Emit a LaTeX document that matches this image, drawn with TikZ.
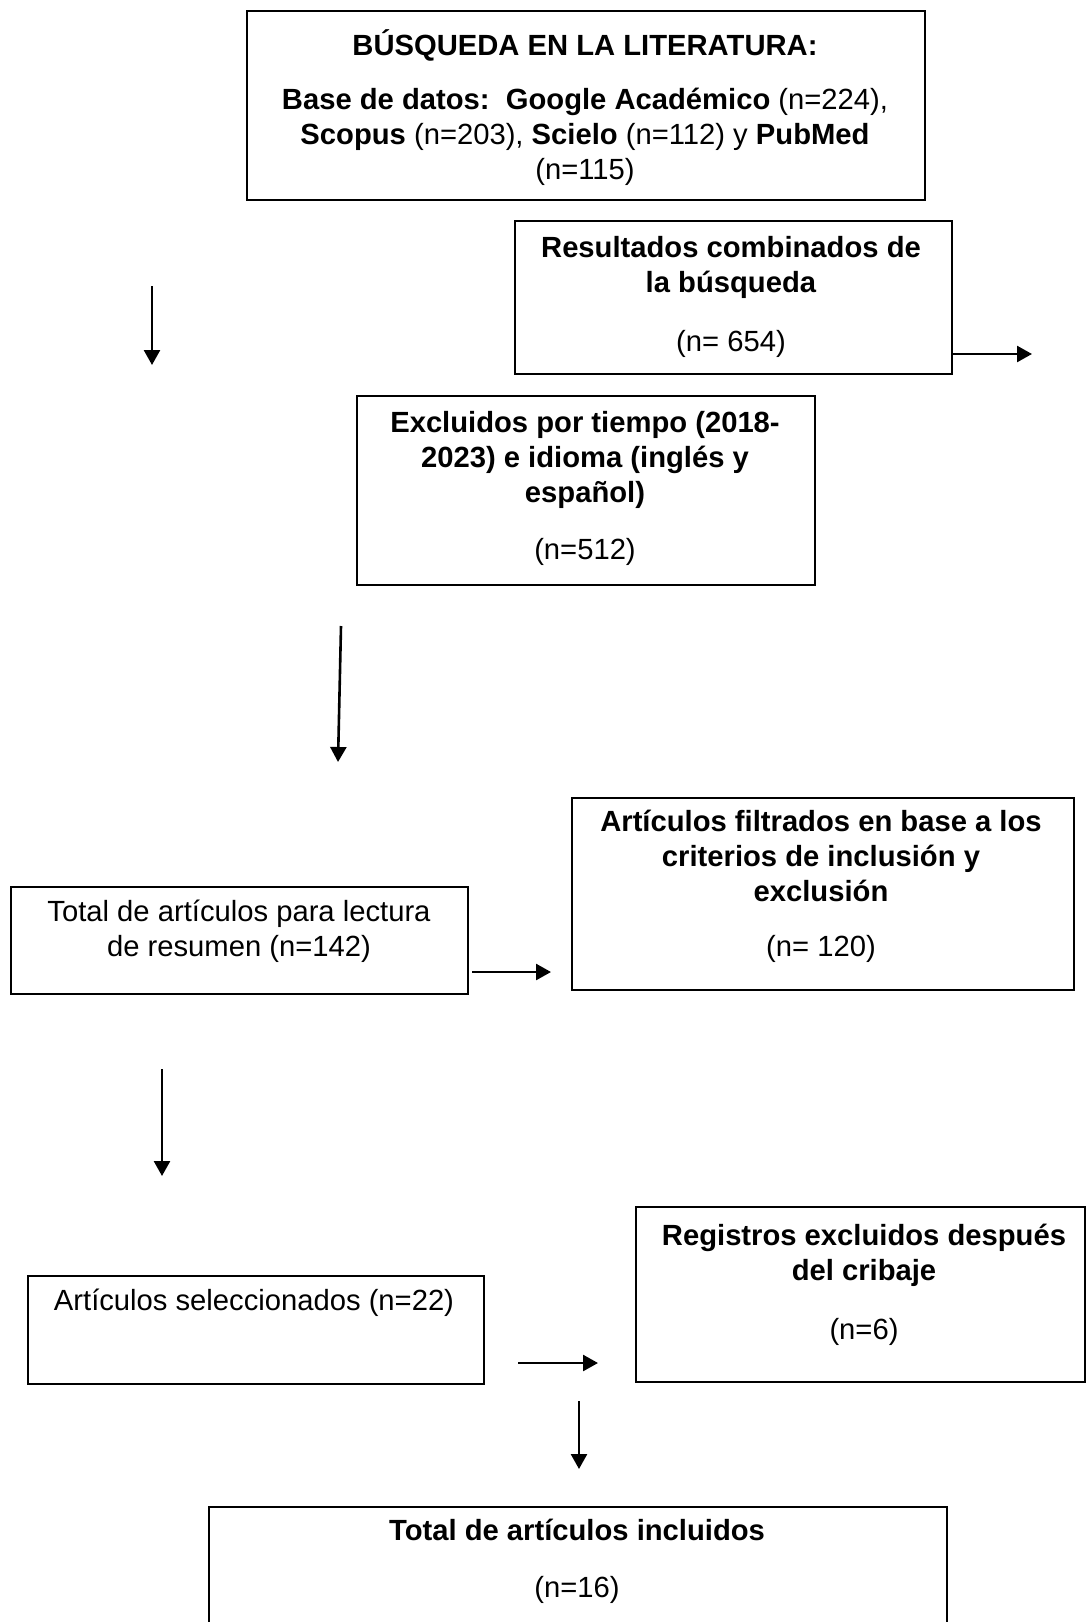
\documentclass[tikz,border=0pt]{standalone}
\usepackage{fontspec}
\setmainfont{Liberation Sans}
\usepackage{tikz}
\usetikzlibrary{arrows.meta,positioning}

\begin{document}
\begin{tikzpicture}[x=0.5pt, y=-0.5pt,
		box/.style={draw, line width=1pt, inner sep=0pt, anchor=north west},
		txt/.style={align=center, inner sep=0pt, font=\fontsize{14.6}{17.5}\selectfont},
		flecha/.style={-{Triangle[width=8pt,length=7.5pt]}, line width=1.3pt}]
	\useasboundingbox (0,0) rectangle (1086,1622);
	% cajas
	\node[box, minimum width=339pt, minimum height=94.5pt] (busq) at (246,10) {};
	\node[box, minimum width=218.5pt, minimum height=76.5pt] (comb) at (514,220) {};
	\node[box, minimum width=229pt, minimum height=94.5pt] (excl) at (356,395) {};
	\node[box, minimum width=251pt, minimum height=96pt] (filt) at (571,797) {};
	\node[box, minimum width=228.5pt, minimum height=53.5pt] (lect) at (10,886) {};
	\node[box, minimum width=224.5pt, minimum height=87.5pt] (crib) at (635,1206) {};
	\node[box, minimum width=228pt, minimum height=54pt] (selec) at (27,1275) {};
	\node[box, minimum width=369pt, minimum height=80pt] (incl) at (208,1506) {};
	% textos
	\node[txt] (busqt) at (585,108) {\textbf{BÚSQUEDA EN LA LITERATURA:}\\[9.5pt]
		\textbf{Base de datos:\ \ Google Académico}\ (n=224),\\
		\textbf{Scopus} (n=203), \textbf{Scielo} (n=112) y \textbf{PubMed}\\
		(n=115)};
	\node[txt] (combt) at (731,297) {\textbf{Resultados combinados\ de}\\
		\textbf{la búsqueda}\\[12pt]
		(n= 654)};
	\node[txt] (exclt) at (585,488) {\textbf{Excluidos por tiempo\ (2018-}\\
		\textbf{2023) e idioma (inglés y}\\
		\textbf{español)}\\[11pt]
		(n=512)};
	\node[txt] (filtt) at (821,886) {\textbf{Artículos\ filtrados en base a los}\\
		\textbf{criterios de inclusión y}\\
		\textbf{exclusión}\\[10pt]
		(n= 120)};
	\node[txt] (lectt) at (239,931) {Total de artículos para lectura\\
		de resumen (n=142)};
	\node[txt] (cribt) at (864,1285) {\textbf{Registros excluidos después}\\
		\textbf{del cribaje}\\[12pt]
		(n=6)};
	\node[txt] (select) at (254,1303) {Artículos seleccionados (n=22)};
	\node[txt] (inclt) at (577,1561) {\textbf{Total de artículos incluidos}\\[11pt]
		(n=16)};
	% flechas
	\coordinate (f1) at (951,354);
	\coordinate (f1e) at (1032,354);
	\coordinate (f2) at (152,286);
	\coordinate (f2e) at (152,365);
	\coordinate (f3) at (341,626);
	\coordinate (f3e) at (338,762);
	\coordinate (f4) at (472,972);
	\coordinate (f4e) at (551,972);
	\coordinate (f5) at (162,1069);
	\coordinate (f5e) at (162,1176);
	\coordinate (f6) at (518,1363);
	\coordinate (f6e) at (598,1363);
	\coordinate (f7) at (579,1401);
	\coordinate (f7e) at (579,1469);
	\foreach \a/\b in {f1/f1e, f2/f2e, f3/f3e, f4/f4e, f5/f5e, f6/f6e, f7/f7e}
		\draw[flecha] (\a) -- (\b);
\end{tikzpicture}
\end{document}
